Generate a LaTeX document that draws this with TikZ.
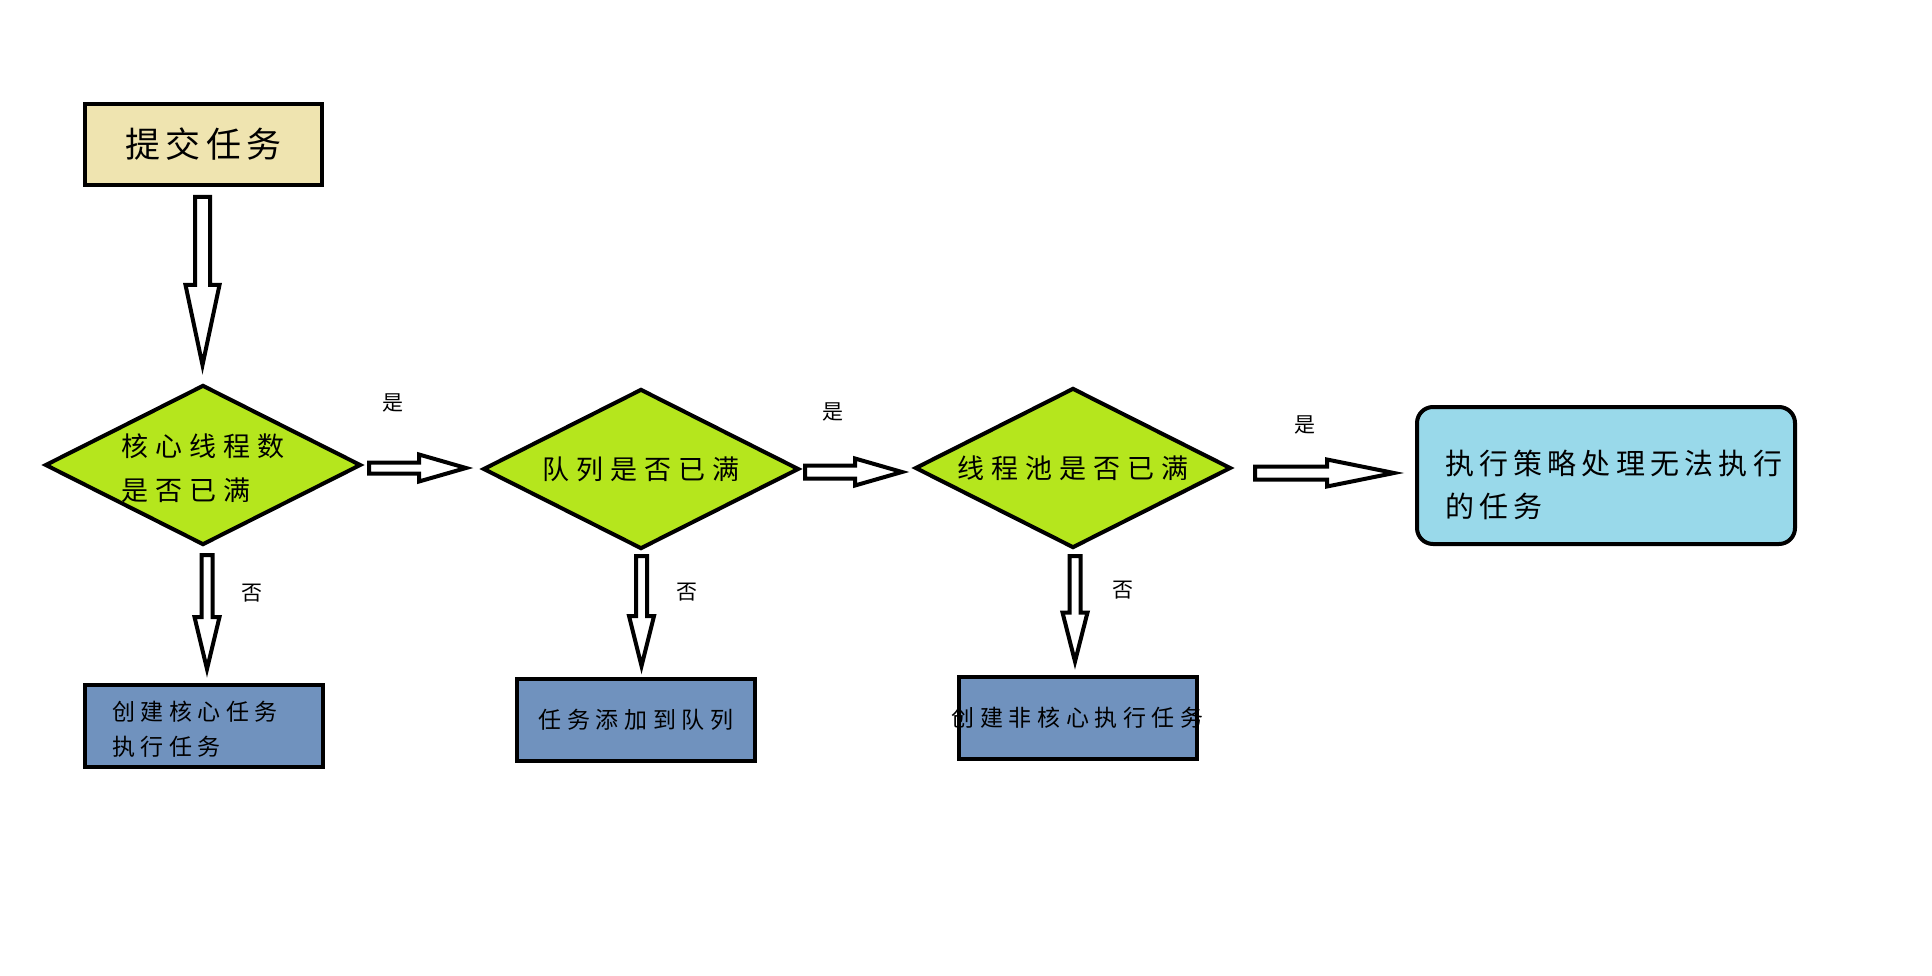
\documentclass[tikz,border=0pt]{standalone}
\usepackage{fontspec}
\newfontfamily\cjk{Noto Sans CJK SC}
\usetikzlibrary{shapes.geometric,calc}
\definecolor{tanc}{HTML}{EFE4B0}
\definecolor{limec}{HTML}{B5E61D}
\definecolor{bluec}{HTML}{7092BE}
\definecolor{turqc}{HTML}{99D9EA}
\newcommand\varrow[5]{%
  \draw[blockarrow] let \p1=(#1), \p2=(#2) in
  (\x1-#3,\y1) -- (\x1+#3,\y1) -- (\x1+#3,\y2+#5) -- (\x1+#4,\y2+#5) -- (\x1,\y2)
  -- (\x1-#4,\y2+#5) -- (\x1-#3,\y2+#5) -- cycle;}
\newcommand\harrow[5]{%
  \draw[blockarrow] let \p1=(#1), \p2=(#2) in
  (\x1,\y1+#3) -- (\x2-#5,\y1+#3) -- (\x2-#5,\y1+#4) -- (\x2,\y1)
  -- (\x2-#5,\y1-#4) -- (\x2-#5,\y1-#3) -- (\x1,\y1-#3) -- cycle;}
% lowered multi-line text block, keeping its reported size
\newcommand\lowtext[2]{\raisebox{-#1}[\height][\depth]{\begin{tabular}{@{}l@{}}#2\end{tabular}}}
\begin{document}
\begin{tikzpicture}[x=1pt,y=-1pt,
  base/.style={draw=black, line width=4pt, inner sep=0pt},
  startbox/.style={base, fill=tanc, minimum width=237pt, minimum height=81pt,
    font=\cjk\fontsize{35}{40}\selectfont\addfontfeature{LetterSpace=15}},
  decision/.style={base, diamond, aspect=1.95, fill=limec, minimum width=316pt,
    minimum height=160pt, font=\cjk\fontsize{27}{44}\selectfont\addfontfeature{LetterSpace=26}},
  actbox/.style={base, fill=bluec, minimum width=238pt, minimum height=82pt,
    font=\cjk\fontsize{23}{35}\selectfont\addfontfeature{LetterSpace=24}},
  rejectbox/.style={base, fill=turqc, rounded corners=16pt, minimum width=378pt,
    minimum height=137pt, font=\cjk\fontsize{29}{43}\selectfont\addfontfeature{LetterSpace=18}},
  lbl/.style={inner sep=0pt, font=\cjk\fontsize{21}{24}\selectfont},
  blockarrow/.style={draw=black, fill=white, line width=4pt, line join=miter}
]
\useasboundingbox[fill=white] (0,0) rectangle (1932,976);

\node[startbox] (submit) at (203.5,144.5) {提交任务};

\node[decision] (d1) at (203,465) {\makebox[0pt]{\lowtext{5pt}{核心线程数\\是否已满}}};
\node[decision] (d2) at (641,469) {队列是否已满};
\node[decision] (d3) at (1073,468) {线程池是否已满};

\node[actbox] (b1) at (204,726) {\makebox[184pt][l]{\lowtext{5pt}{创建核心任务\\执行任务}}};
\node[actbox] (b2) at (636,720) {任务添加到队列};
\node[actbox] (b3) at (1077.5,717.5) {\makebox[0pt][c]{创建非核心执行任务}};

\node[rejectbox] (act) at (1606,475.5) {\makebox[322pt][l]{\lowtext{11.5pt}{执行策略处理无法执行\\的任务}}};

% connector end points
\coordinate (a0s) at ($(submit.south)+(-1,10)$);
\coordinate (a0e) at ($(d1.north)+(0,-18)$);
\coordinate (a1s) at ($(d1.south)+(4,8)$);
\coordinate (a1e) at ($(b1.north)+(0,-14)$);
\coordinate (a2s) at ($(d2.south)+(0.5,5)$);
\coordinate (a2e) at ($(b2.north)+(0,-11)$);
\coordinate (a3s) at ($(d3.south)+(2,6)$);
\coordinate (a3e) at ($(b3.north)+(0,-13)$);
\coordinate (r1s) at ($(d1.east)+(6,3)$);
\coordinate (r1e) at ($(d2.west)+(-15,0)$);
\coordinate (r2s) at ($(d2.east)+(4,3)$);
\coordinate (r2e) at ($(d3.west)+(-11,0)$);
\coordinate (r3s) at ($(d3.east)+(22,5)$);
\coordinate (r3e) at ($(act.west)+(-21,0)$);

\varrow{a0s}{a0e}{7.5}{17}{80}
\varrow{a1s}{a1e}{5.5}{12.5}{52}
\varrow{a2s}{a2e}{5.5}{12.5}{50}
\varrow{a3s}{a3e}{5.5}{12.5}{49}
\harrow{r1s}{r1e}{5.5}{13.5}{47}
\harrow{r2s}{r2e}{6.5}{13.5}{47}
\harrow{r3s}{r3e}{6.5}{13.5}{67}

\node[lbl] (y1) at (393,403) {是};
\node[lbl] (y2) at (833,412) {是};
\node[lbl] (y3) at (1305,425) {是};
\node[lbl] (n1) at (252,593) {否};
\node[lbl] (n2) at (687,592) {否};
\node[lbl] (n3) at (1123,590) {否};
\end{tikzpicture}
\end{document}
